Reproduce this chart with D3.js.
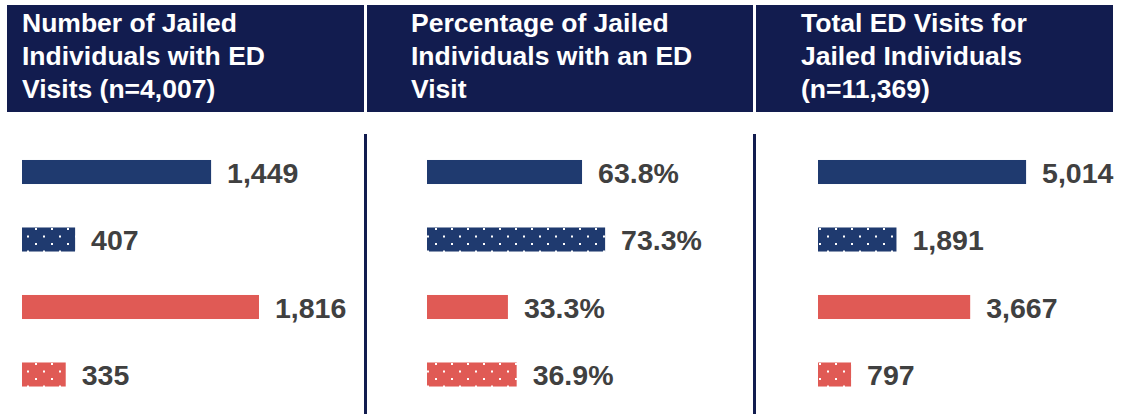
<!DOCTYPE html>
<html>
<head>
<meta charset="utf-8">
<script src="https://cdn.jsdelivr.net/npm/d3@7"></script>
<style>
  body { margin: 0; background: #fff; }
  svg { display: block; font-family: "Liberation Sans", Arial, sans-serif; }
</style>
</head>
<body>
<div id="chart"></div>
<script>
// four rows per panel, top to bottom
const rows = ['row1', 'row2', 'row3', 'row4'];
const panelTitles = [
    ['Number of Jailed', 'Individuals with ED', 'Visits (n=4,007)'],
    ['Percentage of Jailed', 'Individuals with an ED', 'Visit'],
    ['Total ED Visits for', 'Jailed Individuals', '(n=11,369)']
];
const countValues = [1449, 407, 1816, 335];
const percentValues = [63.8, 73.3, 33.3, 36.9];
const visitValues = [5014, 1891, 3667, 797];

const width = 1125, height = 414;
const navy = '#1f3a6f', red = '#e05a55', headerBg = '#121c4f', labelColor = '#404040';

const fillColor = d3.scaleOrdinal().domain(rows).range([navy, navy, red, red]);
const dotted = d3.scaleOrdinal().domain(rows).range([false, true, false, true]);

const panels = [
    { title: panelTitles[0], values: countValues, max: 2000, span: 261, x0: 22, hx: 7, hw: 357, tx: 22, fmt: d3.format(',') },
    { title: panelTitles[1], values: percentValues, max: 100, span: 243, x0: 427, hx: 367, hw: 386, tx: 411, fmt: d => d.toFixed(1) + '%' },
    { title: panelTitles[2], values: visitValues, max: 6000, span: 249, x0: 818, hx: 756, hw: 357, tx: 801, fmt: d3.format(',') }
];

const svg = d3.select('#chart').append('svg')
    .attr('width', width)
    .attr('height', height);

// dot patterns for the hatched bars
const defs = svg.append('defs');
[['dots-navy', navy], ['dots-red', red]].forEach(([id, color]) => {
    const p = defs.append('pattern')
        .attr('id', id)
        .attr('patternUnits', 'userSpaceOnUse')
        .attr('width', 16)
        .attr('height', 15);
    p.append('rect').attr('width', 16).attr('height', 15).attr('fill', color);
    p.append('rect').attr('x', 3).attr('y', 3).attr('width', 2).attr('height', 2).attr('fill', '#fff');
    p.append('rect').attr('x', 11).attr('y', 10.5).attr('width', 2).attr('height', 2).attr('fill', '#fff');
});

const y = d3.scaleBand()
    .domain(rows)
    .range([138.25, 408.25])
    .paddingInner(0.644)
    .paddingOuter(0.322);

// separators between panels
[365.5, 754.5].forEach(xp => {
    svg.append('line')
        .attr('x1', xp).attr('x2', xp)
        .attr('y1', 134).attr('y2', height)
        .attr('stroke', headerBg)
        .attr('stroke-width', 3);
});

panels.forEach(panel => {
    // header block
    svg.append('rect')
        .attr('x', panel.hx)
        .attr('y', 5)
        .attr('width', panel.hw)
        .attr('height', 107)
        .attr('fill', headerBg);

    svg.append('text')
        .attr('x', panel.tx)
        .attr('y', 32)
        .attr('fill', '#fff')
        .attr('font-size', 26.5)
        .attr('font-weight', 'bold')
        .selectAll('tspan')
        .data(panel.title)
        .enter()
        .append('tspan')
        .attr('x', panel.tx)
        .attr('dy', (d, i) => i === 0 ? 0 : 33)
        .text(d => d);

    const x = d3.scaleLinear()
        .domain([0, panel.max])
        .range([panel.x0, panel.x0 + panel.span]);

    const data = rows.map((r, i) => ({ row: r, value: panel.values[i] }));

    const g = svg.append('g');

    g.selectAll('rect.bar')
        .data(data)
        .enter()
        .append('rect')
        .attr('class', 'bar')
        .attr('x', x(0))
        .attr('y', d => y(d.row))
        .attr('width', d => x(d.value) - x(0))
        .attr('height', y.bandwidth())
        .attr('fill', d => dotted(d.row)
            ? (fillColor(d.row) === navy ? 'url(#dots-navy)' : 'url(#dots-red)')
            : fillColor(d.row));

    g.selectAll('text.label')
        .data(data)
        .enter()
        .append('text')
        .attr('class', 'label')
        .attr('x', d => x(d.value) + 16)
        .attr('y', d => y(d.row) + y.bandwidth() / 2 + 10.5)
        .attr('fill', labelColor)
        .attr('font-size', 28.5)
        .attr('font-weight', 'bold')
        .text(d => panel.fmt(d.value));
});
</script>
</body>
</html>
